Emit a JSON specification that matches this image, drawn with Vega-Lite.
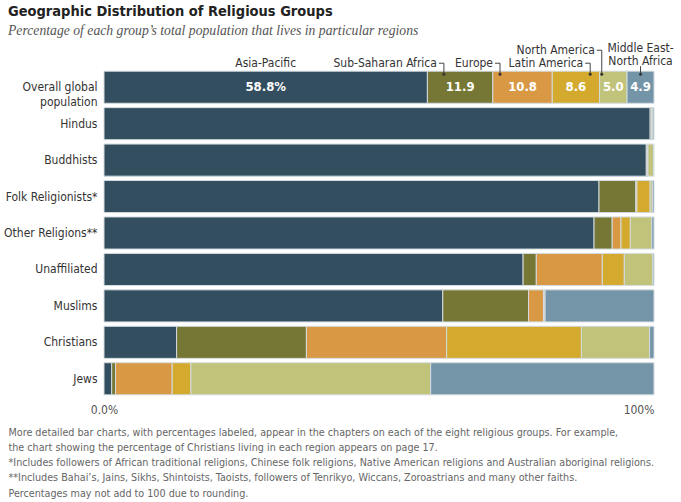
{
  "$schema": "https://vega.github.io/schema/vega-lite/v6.json",
  "width": 550,
  "height": 328,
  "autosize": {"type": "none"},
  "padding": {"left": 104, "top": 69, "right": 27, "bottom": 105},
  "background": "white",
  "config": {"view": {"stroke": null}, "font": "'DejaVu Sans Condensed', 'Liberation Sans Narrow', 'Liberation Sans'"},
  "title": {
    "text": "Geographic Distribution of Religious Groups",
    "subtitle": "Percentage of each group’s total population that lives in particular regions",
    "anchor": "start",
    "frame": "group",
    "dx": -96,
    "offset": 4,
    "font": "'DejaVu Sans Condensed', 'Liberation Sans Narrow', 'Liberation Sans'",
    "fontSize": 14.5,
    "fontWeight": "bold",
    "color": "#222222",
    "subtitleFont": "Liberation Serif",
    "subtitleFontStyle": "italic",
    "subtitleFontSize": 13.7,
    "subtitleColor": "#555555",
    "subtitlePadding": 4
  },
  "datasets": {
    "shares": [
      {"group": "Overall global population", "region": "Asia-Pacific", "value": 58.8, "label": "58.8%"},
      {"group": "Overall global population", "region": "Sub-Saharan Africa", "value": 11.9, "label": "11.9"},
      {"group": "Overall global population", "region": "Europe", "value": 10.8, "label": "10.8"},
      {"group": "Overall global population", "region": "Latin America", "value": 8.6, "label": "8.6"},
      {"group": "Overall global population", "region": "North America", "value": 5.0, "label": "5.0"},
      {"group": "Overall global population", "region": "Middle East-North Africa", "value": 4.9, "label": "4.9"},
      {"group": "Hindus", "region": "Asia-Pacific", "value": 99.3},
      {"group": "Hindus", "region": "Sub-Saharan Africa", "value": 0.2},
      {"group": "Hindus", "region": "Europe", "value": 0.1},
      {"group": "Hindus", "region": "North America", "value": 0.2},
      {"group": "Hindus", "region": "Middle East-North Africa", "value": 0.2},
      {"group": "Buddhists", "region": "Asia-Pacific", "value": 98.6},
      {"group": "Buddhists", "region": "Europe", "value": 0.2},
      {"group": "Buddhists", "region": "Latin America", "value": 0.1},
      {"group": "Buddhists", "region": "North America", "value": 1.0},
      {"group": "Buddhists", "region": "Middle East-North Africa", "value": 0.1},
      {"group": "Folk Religionists*", "region": "Asia-Pacific", "value": 90.0},
      {"group": "Folk Religionists*", "region": "Sub-Saharan Africa", "value": 6.7},
      {"group": "Folk Religionists*", "region": "Europe", "value": 0.2},
      {"group": "Folk Religionists*", "region": "Latin America", "value": 2.4},
      {"group": "Folk Religionists*", "region": "North America", "value": 0.4},
      {"group": "Folk Religionists*", "region": "Middle East-North Africa", "value": 0.3},
      {"group": "Other Religions**", "region": "Asia-Pacific", "value": 89.1},
      {"group": "Other Religions**", "region": "Sub-Saharan Africa", "value": 3.3},
      {"group": "Other Religions**", "region": "Europe", "value": 1.6},
      {"group": "Other Religions**", "region": "Latin America", "value": 1.7},
      {"group": "Other Religions**", "region": "North America", "value": 3.9},
      {"group": "Other Religions**", "region": "Middle East-North Africa", "value": 0.4},
      {"group": "Unaffiliated", "region": "Asia-Pacific", "value": 76.2},
      {"group": "Unaffiliated", "region": "Sub-Saharan Africa", "value": 2.4},
      {"group": "Unaffiliated", "region": "Europe", "value": 12.0},
      {"group": "Unaffiliated", "region": "Latin America", "value": 4.0},
      {"group": "Unaffiliated", "region": "North America", "value": 5.2},
      {"group": "Unaffiliated", "region": "Middle East-North Africa", "value": 0.2},
      {"group": "Muslims", "region": "Asia-Pacific", "value": 61.6},
      {"group": "Muslims", "region": "Sub-Saharan Africa", "value": 15.6},
      {"group": "Muslims", "region": "Europe", "value": 2.7},
      {"group": "Muslims", "region": "Latin America", "value": 0.1},
      {"group": "Muslims", "region": "North America", "value": 0.2},
      {"group": "Muslims", "region": "Middle East-North Africa", "value": 19.8},
      {"group": "Christians", "region": "Asia-Pacific", "value": 13.2},
      {"group": "Christians", "region": "Sub-Saharan Africa", "value": 23.6},
      {"group": "Christians", "region": "Europe", "value": 25.5},
      {"group": "Christians", "region": "Latin America", "value": 24.5},
      {"group": "Christians", "region": "North America", "value": 12.4},
      {"group": "Christians", "region": "Middle East-North Africa", "value": 0.8},
      {"group": "Jews", "region": "Asia-Pacific", "value": 1.4},
      {"group": "Jews", "region": "Sub-Saharan Africa", "value": 0.7},
      {"group": "Jews", "region": "Europe", "value": 10.3},
      {"group": "Jews", "region": "Latin America", "value": 3.4},
      {"group": "Jews", "region": "North America", "value": 43.6},
      {"group": "Jews", "region": "Middle East-North Africa", "value": 40.6}
    ],
    "callouts": [
      {"region": "Asia-Pacific", "text": "Asia-Pacific"},
      {"region": "Sub-Saharan Africa", "text": "Sub-Saharan Africa", "at": 61.8},
      {"region": "Europe", "text": "Europe", "at": 72.0},
      {"region": "Latin America", "text": "Latin America", "at": 88.4},
      {"region": "North America", "text": "North America", "at": 90.5},
      {"region": "Middle East-North Africa", "text": "Middle East-\nNorth Africa", "at": 97.55}
    ]
  },
  "data": {"name": "shares"},
  "transform": [
    {"calculate": "indexof(['Asia-Pacific','Sub-Saharan Africa','Europe','Latin America','North America','Middle East-North Africa'], datum.region)", "as": "rank"},
    {"stack": "value", "groupby": ["group"], "sort": [{"field": "rank", "order": "ascending"}], "as": ["x0", "x1"]},
    {"calculate": "(datum.x0 + datum.x1) / 2", "as": "mid"}
  ],
  "encoding": {
    "y": {
      "field": "group",
      "type": "nominal",
      "sort": ["Overall global population", "Hindus", "Buddhists", "Folk Religionists*", "Other Religions**", "Unaffiliated", "Muslims", "Christians", "Jews"],
      "scale": {"paddingInner": 0.12, "paddingOuter": 0.06},
      "axis": {
        "title": null,
        "domain": false,
        "ticks": false,
        "labelPadding": 7,
        "labelFontSize": 12,
        "labelColor": "#333333",
        "labelLineHeight": 15,
        "labelExpr": "datum.label == 'Overall global population' ? ['Overall global', 'population'] : datum.label"
      }
    }
  },
  "layer": [
    {
      "mark": {"type": "bar", "stroke": "#d3dbe0", "strokeWidth": 1},
      "encoding": {
        "x": {
          "field": "x0",
          "type": "quantitative",
          "scale": {"domain": [0, 100], "nice": false},
          "axis": {
            "values": [0, 100],
            "grid": false,
            "domain": false,
            "ticks": false,
            "labelPadding": 7,
            "labelFontSize": 12,
            "labelColor": "#555555",
            "labelExpr": "datum.value == 0 ? '0.0%' : '100%'",
            "labelAlign": {"condition": {"test": "datum.value == 100", "value": "right"}, "value": "center"},
            "title": [
              "More detailed bar charts, with percentages labeled, appear in the chapters on each of the eight religious groups. For example,",
              "the chart showing the percentage of Christians living in each region appears on page 17.",
              "*Includes followers of African traditional religions, Chinese folk religions, Native American religions and Australian aboriginal religions.",
              "**Includes Bahai’s, Jains, Sikhs, Shintoists, Taoists, followers of Tenrikyo, Wiccans, Zoroastrians and many other faiths.",
              "Percentages may not add to 100 due to rounding."
            ],
            "titleFontSize": 10.7,
            "titleFontWeight": "normal",
            "titleColor": "#666666",
            "titleAlign": "left",
            "titleAnchor": "start",
            "titleBaseline": "alphabetic",
            "titleLineHeight": 15.3,
            "titleX": -96,
            "titleY": 38
          }
        },
        "x2": {"field": "x1"},
        "color": {
          "field": "region",
          "type": "nominal",
          "scale": {
            "domain": ["Asia-Pacific", "Sub-Saharan Africa", "Europe", "Latin America", "North America", "Middle East-North Africa"],
            "range": ["#324e5f", "#767734", "#d99843", "#d4aa2e", "#c1c37b", "#7495a8"]
          },
          "legend": null
        }
      }
    },
    {
      "transform": [{"filter": "datum.group == 'Overall global population'"}],
      "mark": {"type": "text", "color": "white", "fontWeight": "bold", "fontSize": 13, "baseline": "middle"},
      "encoding": {
        "x": {"field": "mid", "type": "quantitative"},
        "text": {"field": "label", "type": "nominal"}
      }
    },
    {
      "transform": [
        {"filter": "datum.group == 'Overall global population'"},
        {"lookup": "region", "from": {"data": {"name": "callouts"}, "key": "region", "fields": ["text", "at"]}}
      ],
      "layer": [
        {
          "transform": [{"filter": "datum.region == 'Asia-Pacific'"}],
          "mark": {"type": "text", "fontSize": 12, "color": "#333333", "align": "center", "baseline": "middle", "yOffset": -24},
          "encoding": {"x": {"field": "mid", "type": "quantitative"}, "text": {"field": "text", "type": "nominal"}}
        },
        {
          "transform": [{"filter": "indexof(['Sub-Saharan Africa','Europe','Latin America'], datum.region) >= 0"}],
          "mark": {"type": "text", "fontSize": 12, "color": "#333333", "align": "right", "baseline": "middle", "dx": -7, "yOffset": -24},
          "encoding": {"x": {"field": "at", "type": "quantitative"}, "text": {"field": "text", "type": "nominal"}}
        },
        {
          "transform": [{"filter": "datum.region == 'North America'"}],
          "mark": {"type": "text", "fontSize": 12, "color": "#333333", "align": "right", "baseline": "middle", "dx": -7, "yOffset": -37},
          "encoding": {"x": {"field": "at", "type": "quantitative"}, "text": {"field": "text", "type": "nominal"}}
        },
        {
          "transform": [{"filter": "datum.region == 'Middle East-North Africa'"}],
          "mark": {"type": "text", "fontSize": 12, "color": "#333333", "align": "center", "baseline": "middle", "lineBreak": "\n", "lineHeight": 13, "yOffset": -39},
          "encoding": {"x": {"field": "at", "type": "quantitative"}, "text": {"field": "text", "type": "nominal"}}
        },
        {
          "transform": [{"filter": "indexof(['Sub-Saharan Africa','Europe','Latin America'], datum.region) >= 0"}],
          "mark": {"type": "rule", "color": "#444444", "strokeWidth": 1, "xOffset": -5, "yOffset": -24},
          "encoding": {"x": {"field": "at", "type": "quantitative"}, "x2": {"field": "at"}}
        },
        {
          "transform": [{"filter": "datum.region == 'North America'"}],
          "mark": {"type": "rule", "color": "#444444", "strokeWidth": 1, "xOffset": -5, "yOffset": -37},
          "encoding": {"x": {"field": "at", "type": "quantitative"}, "x2": {"field": "at"}}
        },
        {
          "transform": [{"filter": "indexof(['Sub-Saharan Africa','Europe','Latin America'], datum.region) >= 0"}],
          "mark": {"type": "rule", "color": "#444444", "strokeWidth": 1, "yOffset": -24, "y2Offset": -13},
          "encoding": {"x": {"field": "at", "type": "quantitative"}, "y2": {"field": "group"}}
        },
        {
          "transform": [{"filter": "datum.region == 'North America'"}],
          "mark": {"type": "rule", "color": "#444444", "strokeWidth": 1, "yOffset": -37, "y2Offset": -13},
          "encoding": {"x": {"field": "at", "type": "quantitative"}, "y2": {"field": "group"}}
        },
        {
          "transform": [{"filter": "datum.region == 'Middle East-North Africa'"}],
          "mark": {"type": "rule", "color": "#444444", "strokeWidth": 1, "yOffset": -21, "y2Offset": -13},
          "encoding": {"x": {"field": "at", "type": "quantitative"}, "y2": {"field": "group"}}
        },
        {
          "transform": [{"filter": "datum.region != 'Asia-Pacific'"}],
          "mark": {"type": "point", "filled": true, "color": "#333333", "opacity": 1, "size": 9, "yOffset": -13},
          "encoding": {"x": {"field": "at", "type": "quantitative"}}
        }
      ]
    }
  ]
}
